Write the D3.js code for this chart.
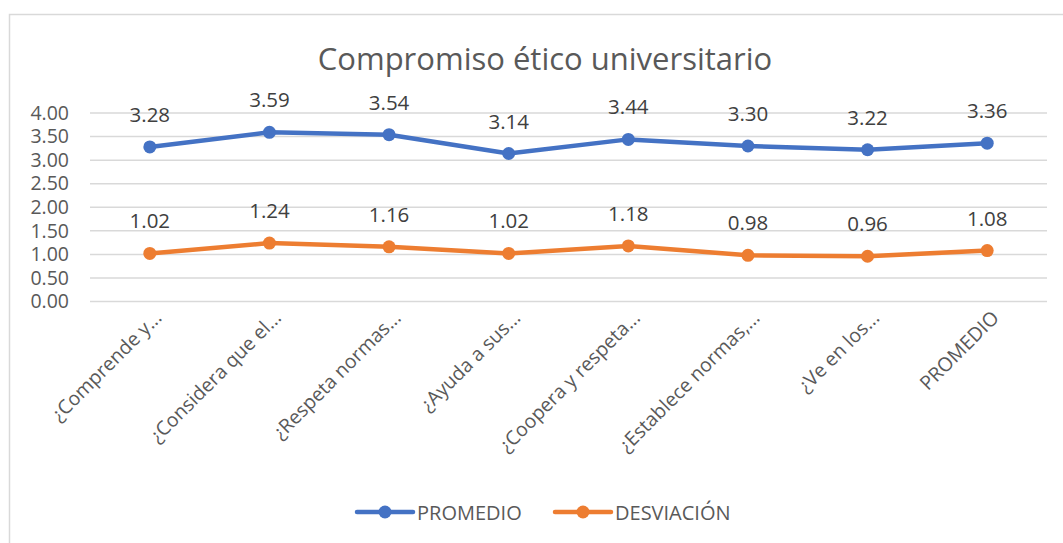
<!DOCTYPE html>
<html><head><meta charset="utf-8">
<script src="https://cdn.jsdelivr.net/npm/d3@7"></script>
<style>body{margin:0;background:#fff}svg{display:block}text{font-family:"Open Sans",sans-serif;fill:#595959}</style>
</head><body><svg id="c" width="1063" height="543"></svg>
<script>
const categories = ["¿Comprende y...","¿Considera que el...","¿Respeta normas...","¿Ayuda a sus...","¿Coopera y respeta...","¿Establece normas,...","¿Ve en los...","PROMEDIO"];
const promedio = [3.28,3.59,3.54,3.14,3.44,3.30,3.22,3.36];
const desviacion = [1.02,1.24,1.16,1.02,1.18,0.98,0.96,1.08];
const yTicks = [0,0.5,1,1.5,2,2.5,3,3.5,4];
const seriesNames = ["PROMEDIO","DESVIACIÓN"];
const colors = ["#4472C4","#ED7D31"];
const title = "Compromiso ético universitario";

const svg = d3.select("#c");
svg.append("rect").attr("x",9.5).attr("y",14.5).attr("width",1100).attr("height",600)
  .attr("fill","#fff").attr("stroke","#D9D9D9").attr("stroke-width",1.5);

svg.append("text").attr("x",545).attr("y",70).attr("text-anchor","middle")
  .style("font-size","31px").text(title);

const x = d3.scaleBand().domain(categories).range([90,1047]);
const y = d3.scaleLinear().domain([0,4]).range([301.5,113]);

const grid = svg.append("g");
grid.selectAll("line").data(yTicks).join("line")
  .attr("x1",90).attr("x2",1047).attr("y1",d=>y(d)).attr("y2",d=>y(d))
  .attr("stroke","#D9D9D9").attr("stroke-width",1.5);

const yAxis = svg.append("g").attr("transform","translate(90,0)")
  .call(d3.axisLeft(y).tickValues(yTicks).tickFormat(d3.format(".2f")).tickSize(0).tickPadding(21));
yAxis.select(".domain").remove();
yAxis.selectAll("text").style("font-size","19.5px").attr("fill","#595959").style("font-family","'Open Sans',sans-serif");

const xAxis = svg.append("g");
xAxis.selectAll("text").data(categories).join("text")
  .attr("transform",d=>`translate(${x(d)+x.bandwidth()/2+13},${319}) rotate(-45)`)
  .attr("text-anchor","end").style("font-size","19.5px").text(d=>d);

const series = [promedio, desviacion];
const cx = d=>x(d)+x.bandwidth()/2;
series.forEach((vals,i)=>{
  const data = categories.map((c,j)=>({c,v:vals[j]}));
  svg.append("path").datum(data)
    .attr("fill","none").attr("stroke",colors[i]).attr("stroke-width",4.5).attr("stroke-linejoin","round")
    .attr("d",d3.line().x(d=>cx(d.c)).y(d=>y(d.v)));
  svg.append("g").selectAll("circle").data(data).join("circle")
    .attr("cx",d=>cx(d.c)).attr("cy",d=>y(d.v)).attr("r",6.5).attr("fill",colors[i]);
  svg.append("g").selectAll("text").data(data).join("text")
    .attr("x",d=>cx(d.c)).attr("y",d=>y(d.v)-25).attr("text-anchor","middle")
    .style("font-size","20.5px").style("fill","#404040").text(d=>d.v.toFixed(2));
});

const legX = [357,555];
const leg = svg.append("g");
seriesNames.forEach((n,i)=>{
  const g = leg.append("g").attr("transform",`translate(${legX[i]},512)`);
  g.append("line").attr("x1",0).attr("x2",56).attr("stroke",colors[i]).attr("stroke-width",4.5).attr("stroke-linecap","round");
  g.append("circle").attr("cx",28).attr("r",6.5).attr("fill",colors[i]);
  g.append("text").attr("x",60).attr("y",7.5).style("font-size","20px").text(n);
});
</script></body></html>
